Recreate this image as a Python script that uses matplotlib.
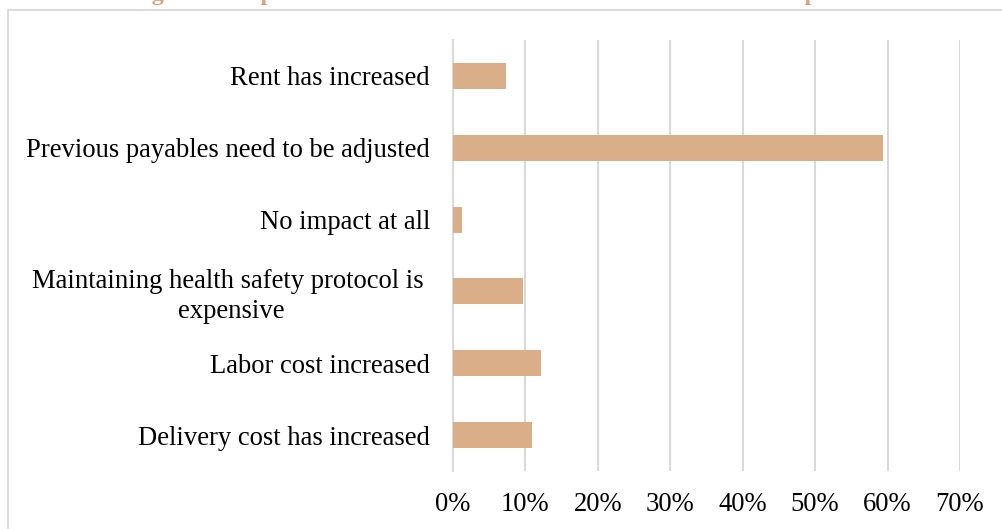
import matplotlib
matplotlib.use("Agg")
import matplotlib.pyplot as plt
from matplotlib.patches import Rectangle
from matplotlib.ticker import PercentFormatter

# Survey responses: effect on business expenses (share of respondents)
categories = [
    "Rent has increased",
    "Previous payables need to be adjusted",
    "No impact at all",
    "Maintaining health safety protocol is \nexpensive",
    "Labor cost increased",
    "Delivery cost has increased",
]
shares = [0.073, 0.593, 0.012, 0.097, 0.122, 0.109]
tick_values = [0.0, 0.1, 0.2, 0.3, 0.4, 0.5, 0.6, 0.7]
title_text = "Figure 7: Impact of COVID-19 on the restaurant owners' total expenses"

bar_color = "#DAAE89"
title_color = "#D9A47A"
grid_color = "#D9D9D9"

plt.rcParams["font.family"] = ["Liberation Serif", "DejaVu Serif"]

W, H = 1003, 529
fig = plt.figure(figsize=(W / 100, H / 100), dpi=100)

# chart frame (continues past the right and bottom edges)
fig.patches.append(Rectangle((8 / W, -0.1), 1.2, 1 - 10 / H + 0.1,
                             transform=fig.transFigure, fill=False,
                             edgecolor=grid_color, linewidth=1.3))

ax = fig.add_axes([453 / W, 1 - 471 / H, (960 - 453) / W, (471 - 40) / H])

y = list(range(len(categories)))
ax.barh(y, shares, height=0.36, color=bar_color, zorder=3)
ax.set_ylim(len(categories) - 0.5, -0.5)
ax.set_yticks(y)
ax.set_yticklabels(categories, fontsize=19.2, multialignment="center",
                   linespacing=1.25)
ax.set_xlim(0, 0.7)
ax.set_xticks(tick_values)
ax.xaxis.set_major_formatter(PercentFormatter(1.0, decimals=0))
ax.tick_params(axis="x", labelsize=19.2, length=0, pad=15)
ax.tick_params(axis="y", length=0, pad=16.5)

ax.grid(axis="x", color=grid_color, linewidth=1.5, zorder=0)
for s in ["top", "right", "bottom"]:
    ax.spines[s].set_visible(False)
ax.spines["left"].set_color(grid_color)
ax.spines["left"].set_linewidth(1.5)

# title sits mostly above the visible area
fig.text(0.5, 1.0, title_text, ha="center", va="baseline", fontsize=17.5,
         fontweight="bold", color=title_color)

fig.savefig("out.png", dpi=100, facecolor="white")
